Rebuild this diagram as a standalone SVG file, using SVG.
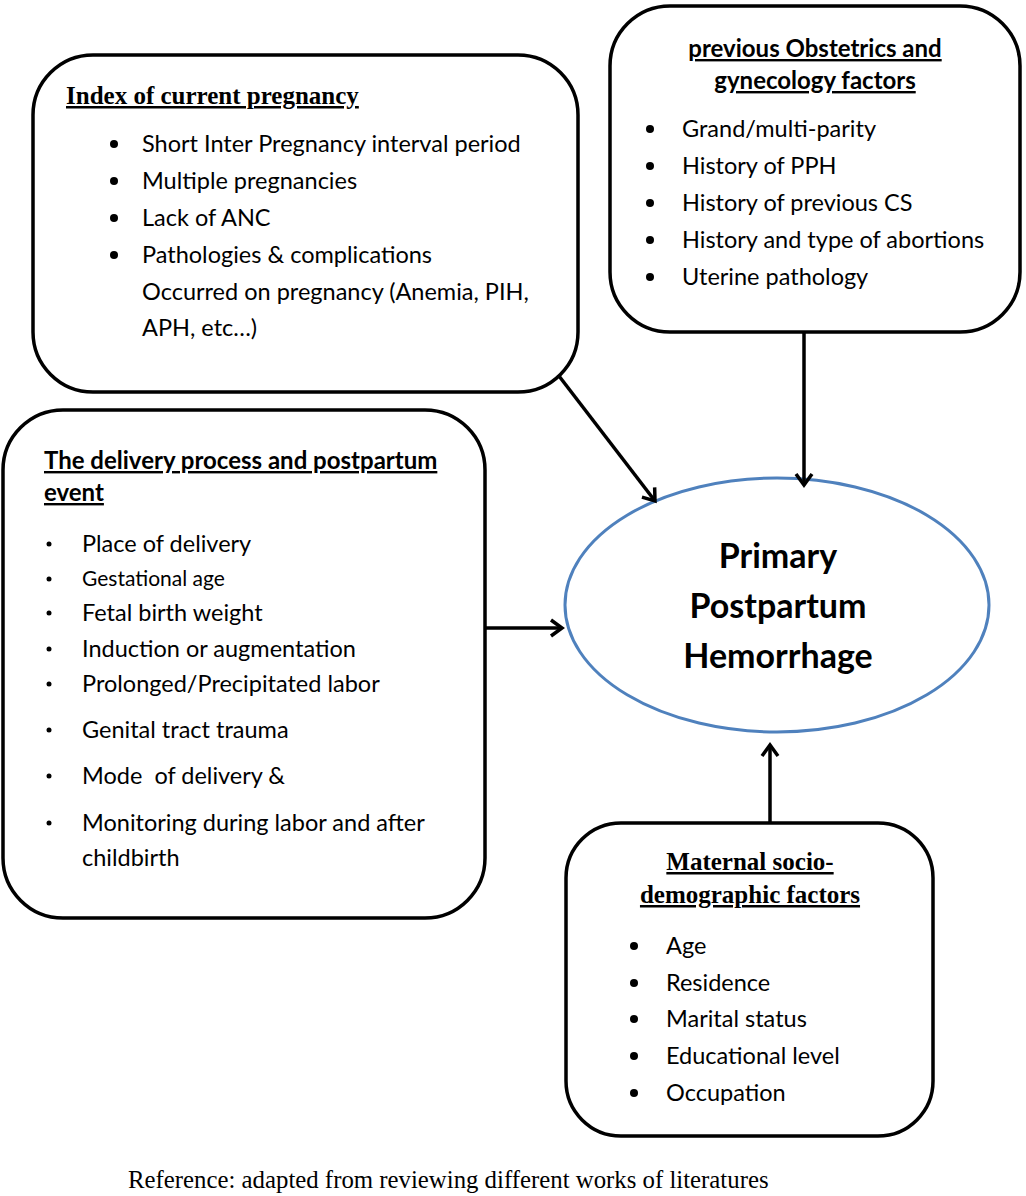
<svg xmlns="http://www.w3.org/2000/svg" width="1026" height="1196" viewBox="0 0 1026 1196">
<style>
.box{fill:#fff;stroke:#000;stroke-width:3.5}
.t{font-family:Lato,"Liberation Sans",sans-serif;font-size:23.5px;fill:#000}
.h{font-family:Lato,"Liberation Sans",sans-serif;font-size:24px;font-weight:bold;fill:#000;text-decoration:underline}
.hs{font-family:"Liberation Serif",serif;font-size:25px;font-weight:bold;fill:#000;text-decoration:underline}
.c{font-family:Lato,"Liberation Sans",sans-serif;font-size:34px;font-weight:bold;fill:#000}
.cap{font-family:"Liberation Serif",serif;font-size:24.8px;fill:#000}
.con{stroke:#000;stroke-width:3.5;fill:none}
</style>
<defs>
<marker id="ah" viewBox="-14 -10 16 20" refX="0" refY="0" markerWidth="16" markerHeight="20" orient="auto" markerUnits="userSpaceOnUse" overflow="visible">
<path d="M-11,-8 L0,0 L-11,8" fill="none" stroke="#000" stroke-width="3.5" stroke-linejoin="miter"/>
</marker>
</defs>
<rect width="1026" height="1196" fill="#fff"/>
<g id="node-current">
<rect class="box" x="33" y="55" width="545" height="337" rx="60"/>
<text class="hs" x="66" y="104">Index of current pregnancy</text>
<g class="t">
<circle cx="114" cy="144" r="4"/><text x="142" y="152">Short Inter Pregnancy interval period</text>
<circle cx="114" cy="181" r="4"/><text x="142" y="189">Multiple pregnancies</text>
<circle cx="114" cy="218" r="4"/><text x="142" y="226">Lack of ANC</text>
<circle cx="114" cy="255" r="4"/><text x="142" y="263">Pathologies &amp; complications</text>
<text x="142" y="300">Occurred on pregnancy (Anemia, PIH,</text>
<text x="142" y="336">APH, etc…)</text>
</g>
</g>
<g id="node-previous">
<rect class="box" x="610" y="6" width="410" height="326" rx="60"/>
<text class="h" x="815" y="57" text-anchor="middle"> previous Obstetrics and</text>
<text class="h" x="815" y="89" text-anchor="middle">gynecology factors</text>
<g class="t">
<circle cx="650" cy="129" r="4"/><text x="682" y="137">Grand/multi-parity</text>
<circle cx="650" cy="166" r="4"/><text x="682" y="174">History of PPH</text>
<circle cx="650" cy="203" r="4"/><text x="682" y="211">History of previous CS</text>
<circle cx="650" cy="240" r="4"/><text x="682" y="248">History and type of abortions</text>
<circle cx="650" cy="277" r="4"/><text x="682" y="285">Uterine pathology</text>
</g>
</g>
<g id="node-delivery">
<rect class="box" x="3" y="410" width="482" height="508" rx="60"/>
<text class="h" x="44" y="469">The delivery process and postpartum</text>
<text class="h" x="44" y="501">event</text>
<g class="t">
<circle cx="49" cy="544" r="2.5"/><text x="82" y="552">Place of delivery</text>
<circle cx="49" cy="579" r="2.5"/><text x="82" y="586" font-size="21">Gestational age</text>
<circle cx="49" cy="613" r="2.5"/><text x="82" y="621">Fetal birth weight</text>
<circle cx="49" cy="649" r="2.5"/><text x="82" y="657">Induction or augmentation</text>
<circle cx="49" cy="684" r="2.5"/><text x="82" y="692">Prolonged/Precipitated labor</text>
<circle cx="49" cy="730" r="2.5"/><text x="82" y="738">Genital tract trauma</text>
<circle cx="49" cy="776" r="2.5"/><text x="82" y="784" xml:space="preserve">Mode  of delivery &amp;</text>
<circle cx="49" cy="823" r="2.5"/><text x="82" y="831">Monitoring during labor and after</text>
<text x="82" y="866">childbirth</text>
</g>
</g>
<g id="node-pph">
<ellipse cx="777" cy="605" rx="212" ry="127" fill="#fff" stroke="#4F81BD" stroke-width="3"/>
<text class="c" x="778" y="568" text-anchor="middle">Primary</text>
<text class="c" x="778" y="618" text-anchor="middle">Postpartum</text>
<text class="c" x="778" y="668" text-anchor="middle">Hemorrhage</text>
</g>
<g id="node-maternal">
<rect class="box" x="566" y="823" width="367" height="313" rx="55"/>
<text class="hs" x="750" y="870" text-anchor="middle">Maternal socio-</text>
<text class="hs" x="750" y="903" text-anchor="middle">demographic factors</text>
<g class="t">
<circle cx="634" cy="946" r="4"/><text x="666" y="954">Age</text>
<circle cx="634" cy="983" r="4"/><text x="666" y="991">Residence</text>
<circle cx="634" cy="1019" r="4"/><text x="666" y="1027">Marital status</text>
<circle cx="634" cy="1056" r="4"/><text x="666" y="1064">Educational level</text>
<circle cx="634" cy="1093" r="4"/><text x="666" y="1101">Occupation</text>
</g>
</g>
<g id="connectors">
<line class="con" x1="559" y1="376" x2="655" y2="501" marker-end="url(#ah)"/>
<line class="con" x1="804" y1="333" x2="804" y2="485" marker-end="url(#ah)"/>
<line class="con" x1="486" y1="628" x2="562" y2="628" marker-end="url(#ah)"/>
<line class="con" x1="770" y1="822" x2="770" y2="745" marker-end="url(#ah)"/>
</g>
<text class="cap" x="128" y="1188">Reference: adapted from reviewing different works of literatures</text>
</svg>
